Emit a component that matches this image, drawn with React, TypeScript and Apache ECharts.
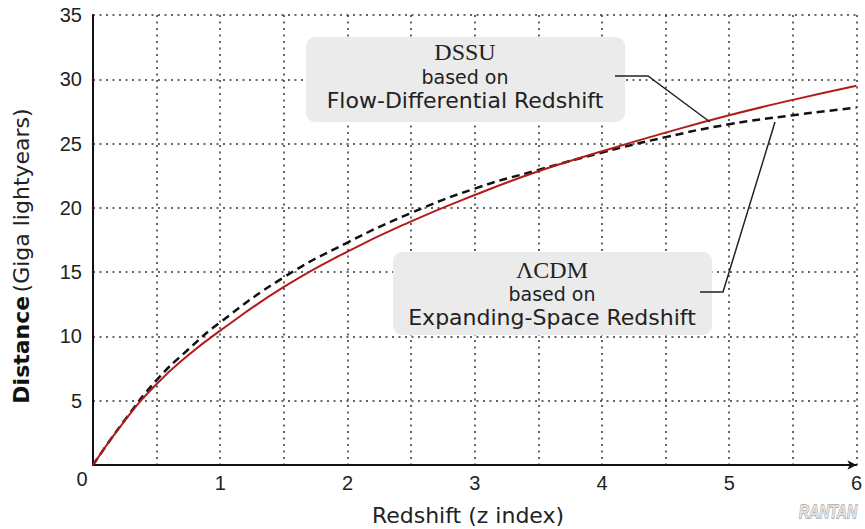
import React, { useEffect, useRef } from "react";
import * as echarts from "echarts";

const redshift = [0, 0.25, 0.5, 0.75, 1, 1.5, 2, 2.5, 3, 3.5, 4, 4.5, 5, 5.5, 6];
const dssu = [0, 3.45, 6.3, 8.55, 10.45, 13.85, 16.6, 18.95, 21.0, 22.85, 24.4, 25.85, 27.2, 28.4, 29.5];
const lcdm = [0, 3.5, 6.6, 9.0, 11.1, 14.6, 17.3, 19.6, 21.5, 22.95, 24.3, 25.5, 26.5, 27.2, 27.8];
const yTicks = [5, 10, 15, 20, 25, 30, 35];
const xTicks = [1, 2, 3, 4, 5, 6];

const SANS = "'Liberation Sans', Arial, Helvetica, sans-serif";
const WIDE = "'DejaVu Sans', 'Liberation Sans', Arial, sans-serif";
const SERIF = "'Liberation Serif', 'Times New Roman', serif";

export default function App() {
  const ref = useRef<HTMLDivElement>(null);
  useEffect(() => {
    if (!ref.current) return;
    const chart = echarts.init(ref.current, null, { renderer: "svg" });
    const gridDot = { color: "#333", width: 1.5, type: [2, 4.5] as any };
    chart.setOption({
      animation: false,
      backgroundColor: "#fff",
      grid: { left: 93, right: 4, top: 15, bottom: 64, containLabel: false },
      xAxis: {
        type: "value",
        min: 0,
        max: 6,
        interval: 0.5,
        axisLine: {
          show: true,
          symbol: ["none", "arrow"],
          symbolSize: [7, 9],
          lineStyle: { color: "#111", width: 2 },
        },
        axisTick: { show: false },
        axisLabel: {
          fontFamily: SANS,
          fontSize: 20,
          color: "#222",
          margin: 8,
          formatter: (v: number) => (xTicks.includes(v) ? String(v) : ""),
        },
        splitLine: { show: true, lineStyle: gridDot },
      },
      yAxis: {
        type: "value",
        min: 0,
        max: 35,
        interval: 5,
        axisLine: { show: true, lineStyle: { color: "#111", width: 2 } },
        axisTick: { show: false },
        axisLabel: {
          fontFamily: SANS,
          fontSize: 20,
          color: "#222",
          margin: 11,
          formatter: (v: number) => (yTicks.includes(v) ? String(v) : ""),
        },
        splitLine: { show: true, lineStyle: gridDot },
      },
      series: [
        {
          name: "ΛCDM",
          type: "line",
          smooth: true,
          showSymbol: false,
          data: redshift.map((z, i) => [z, lcdm[i]]),
          lineStyle: { color: "#111", width: 2.5, type: [8, 5] as any },
          z: 3,
        },
        {
          name: "DSSU",
          type: "line",
          smooth: true,
          showSymbol: false,
          data: redshift.map((z, i) => [z, dssu[i]]),
          lineStyle: { color: "#b31b1b", width: 2 },
          z: 4,
        },
      ],
      graphic: [
        {
          type: "text",
          z: 6,
          x: 82,
          y: 479,
          style: { text: "0", fontFamily: SANS, fontSize: 20, fill: "#222", align: "center", verticalAlign: "middle" },
        },
        {
          type: "text",
          z: 6,
          x: 468,
          y: 515,
          style: { text: "Redshift (z index)", fontFamily: WIDE, fontSize: 22, fill: "#222", align: "center", verticalAlign: "middle" },
        },
        {
          type: "text",
          z: 6,
          x: 21,
          y: 256,
          rotation: Math.PI / 2,
          style: {
            text: "{b|Distance} {n|(Giga lightyears)}",
            align: "center",
            verticalAlign: "middle",
            rich: {
              b: { fontFamily: WIDE, fontSize: 22, fontWeight: "bold", fill: "#111" },
              n: { fontFamily: WIDE, fontSize: 22, fill: "#222" },
            },
          },
        },
        {
          type: "rect",
          z: 5,
          shape: { x: 306, y: 37, width: 319, height: 85, r: 9 },
          style: { fill: "#ebebeb" },
        },
        {
          type: "text",
          z: 6,
          x: 465,
          y: 52,
          style: { text: "DSSU", fontFamily: SERIF, fontSize: 24, fill: "#222", align: "center", verticalAlign: "middle" },
        },
        {
          type: "text",
          z: 6,
          x: 465,
          y: 77,
          style: { text: "based on", fontFamily: WIDE, fontSize: 19, fill: "#222", align: "center", verticalAlign: "middle" },
        },
        {
          type: "text",
          z: 6,
          x: 465,
          y: 100,
          style: { text: "Flow-Differential Redshift", fontFamily: WIDE, fontSize: 22, fill: "#222", align: "center", verticalAlign: "middle" },
        },
        {
          type: "polyline",
          z: 6,
          shape: { points: [[615, 76], [648, 76], [710, 122]] },
          style: { stroke: "#222", lineWidth: 1.5, fill: "none" },
        },
        {
          type: "rect",
          z: 5,
          shape: { x: 393, y: 252, width: 319, height: 83, r: 9 },
          style: { fill: "#ebebeb" },
        },
        {
          type: "text",
          z: 6,
          x: 552,
          y: 270,
          style: { text: "ΛCDM", fontFamily: SERIF, fontSize: 24, fill: "#222", align: "center", verticalAlign: "middle" },
        },
        {
          type: "text",
          z: 6,
          x: 552,
          y: 294,
          style: { text: "based on", fontFamily: WIDE, fontSize: 19, fill: "#222", align: "center", verticalAlign: "middle" },
        },
        {
          type: "text",
          z: 6,
          x: 552,
          y: 317,
          style: { text: "Expanding-Space Redshift", fontFamily: WIDE, fontSize: 22, fill: "#222", align: "center", verticalAlign: "middle" },
        },
        {
          type: "polyline",
          z: 6,
          shape: { points: [[700, 292], [723, 292], [775, 122]] },
          style: { stroke: "#222", lineWidth: 1.5, fill: "none" },
        },
        {
          type: "text",
          z: 6,
          x: 828,
          y: 511,
          scaleX: 0.78,
          style: {
            text: "RANTAN",
            fontFamily: SANS,
            fontSize: 18,
            fontStyle: "italic",
            fontWeight: "bold",
            fill: "#e2e2e2",
            stroke: "#7a7a7a",
            lineWidth: 0.8,
            align: "center",
            verticalAlign: "middle",
          },
        },
      ],
    });
    return () => chart.dispose();
  }, []);
  return (
    <div
      ref={ref}
      style={{ position: "fixed", left: 0, top: 0, width: 865, height: 529, background: "#fff" }}
    />
  );
}
